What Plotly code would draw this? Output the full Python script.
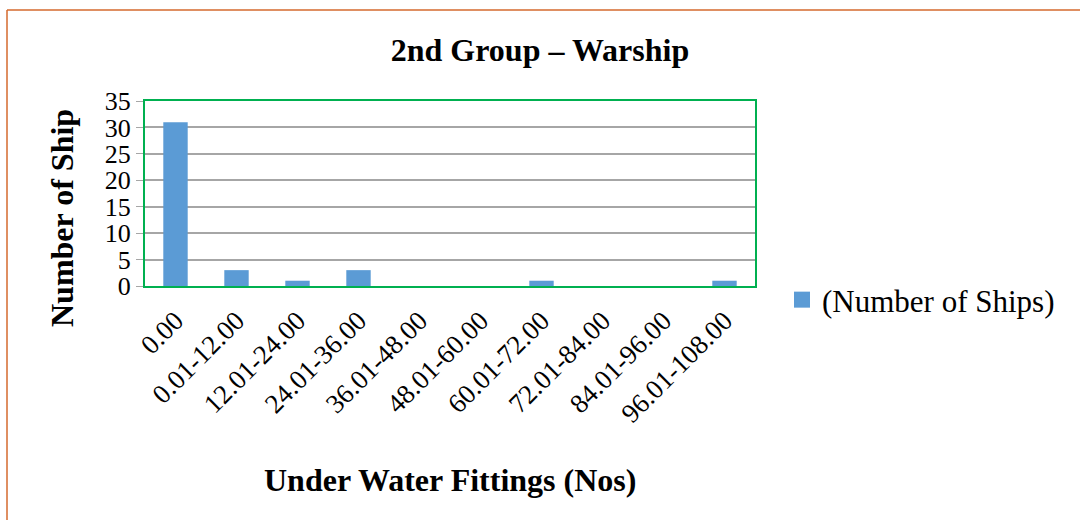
import plotly.graph_objects as go

categories = ["0.00", "0.01-12.00", "12.01-24.00", "24.01-36.00", "36.01-48.00",
              "48.01-60.00", "60.01-72.00", "72.01-84.00", "84.01-96.00", "96.01-108.00"]
ships = [31, 3, 1, 3, 0, 0, 1, 0, 0, 1]
y_ticks = [0, 5, 10, 15, 20, 25, 30, 35]

W, H = 1080, 520
ml, mr, mt, mb = 145, 325, 101, 234
pw, ph = W - ml - mr, H - mt - mb

def px_x(x):
    return (x - ml) / pw

def px_y(y):
    return (H - mb - y) / ph

serif = "Liberation Serif, Times New Roman, serif"
bar_color = "#5B9BD5"

fig = go.Figure()
fig.add_trace(go.Bar(x=categories, y=ships, name="(Number of Ships)",
                     marker=dict(color=bar_color, line=dict(width=0)),
                     showlegend=False))
fig.add_trace(go.Scatter(x=[None], y=[None], mode="markers", name="(Number of Ships)",
                         marker=dict(symbol="square", size=16, color=bar_color),
                         showlegend=True))

fig.update_layout(
    width=W, height=H,
    margin=dict(l=ml, r=mr, t=mt, b=mb, autoexpand=False),
    paper_bgcolor="white", plot_bgcolor="white",
    bargap=0.6,
    font=dict(family=serif, color="black", size=27),
    title=dict(text="<b>2nd Group – Warship</b>", x=0.5, xanchor="center",
               y=1 - 50 / H, yanchor="middle", font=dict(size=32, family=serif)),
    showlegend=True,
    legend=dict(x=px_x(782), y=px_y(300), xanchor="left", yanchor="middle",
                font=dict(size=31, family=serif), itemwidth=30,
                bgcolor="rgba(0,0,0,0)"),
    xaxis=dict(tickangle=-45, showline=True, linecolor="#00B050", linewidth=2,
               mirror=True, ticks="outside", ticklen=6, tickcolor="rgba(0,0,0,0)",
               tickfont=dict(size=27, family=serif)),
    yaxis=dict(range=[0, 35], tickvals=y_ticks, showgrid=True, gridcolor="#A6A6A6",
               gridwidth=1.5, showline=True, linecolor="#00B050", linewidth=2, mirror=True,
               ticks="outside", ticklen=7, tickcolor="#A6A6A6",
               tickfont=dict(size=26, family=serif), zeroline=False),
    annotations=[
        dict(text="<b>Number of Ship</b>", xref="paper", yref="paper",
             x=px_x(62), y=px_y(218), textangle=-90, showarrow=False,
             xanchor="center", yanchor="middle", font=dict(size=32, family=serif)),
        dict(text="<b>Under Water Fittings (Nos)</b>", xref="paper", yref="paper",
             x=px_x(450), y=px_y(480), showarrow=False,
             xanchor="center", yanchor="middle", font=dict(size=32, family=serif)),
    ],
    shapes=[
        dict(type="line", xref="paper", yref="paper", x0=px_x(7), x1=px_x(1085),
             y0=px_y(10), y1=px_y(10), line=dict(color="#D46A2E", width=1.5)),
        dict(type="line", xref="paper", yref="paper", x0=px_x(7), x1=px_x(7),
             y0=px_y(10), y1=px_y(525), line=dict(color="#D46A2E", width=1.5)),
    ],
)

fig.write_html("out.html", config={"displayModeBar": False},
               post_script="document.body.style.margin='0';document.body.style.overflow='hidden';")
